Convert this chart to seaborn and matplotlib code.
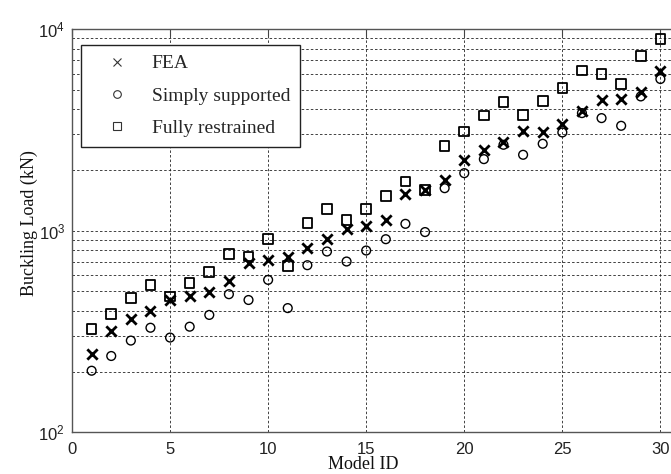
import math
import pandas as pd
import seaborn as sns
import matplotlib.pyplot as plt
from matplotlib.lines import Line2D
from matplotlib.ticker import MultipleLocator, LogLocator, FuncFormatter, NullFormatter

model_id = [1, 2, 3, 4, 5, 6, 7, 8, 9, 10,
            11, 12, 13, 14, 15, 16, 17, 18, 19, 20,
            21, 22, 23, 24, 25, 26, 27, 28, 29, 30]

fea = [245, 318, 364, 400, 453, 476, 499, 565, 690, 716,
       736, 819, 911, 1017, 1056, 1132, 1517, 1592, 1773, 2245,
       2518, 2737, 3104, 3069, 3388, 3900, 4425, 4510, 4868, 6210]

simply_supported = [202, 239, 285, 330, 295, 334, 382, 484, 453, 570,
                    413, 674, 788, 703, 797, 907, 1081, 984, 1624, 1928,
                    2263, 2666, 2378, 2697, 3069, 3828, 3615, 3311, 4630, 5649]

fully_restrained = [326, 385, 462, 538, 471, 549, 622, 767, 744, 907,
                    669, 1089, 1283, 1132, 1283, 1488, 1753, 1591, 2636, 3104,
                    3717, 4345, 3757, 4406, 5094, 6233, 5995, 5355, 7365, 8946]

series_names = ["FEA", "Simply supported", "Fully restrained"]

df = pd.DataFrame({
    "Model ID": model_id * 3,
    "Load": fea + simply_supported + fully_restrained,
    "Series": [n for n in series_names for _ in model_id],
})

sns.set_theme(style="white")
plt.rcParams["font.family"] = ["Liberation Serif", "DejaVu Serif"]
plt.rcParams["mathtext.fontset"] = "custom"
plt.rcParams["mathtext.rm"] = "Liberation Sans"
plt.rcParams["mathtext.it"] = "Liberation Sans"
plt.rcParams["mathtext.bf"] = "Liberation Sans"

fig = plt.figure(figsize=(6.71, 4.74), dpi=100)
ax = fig.add_axes([72 / 671, 41.7 / 474, 608 / 671, 403.3 / 474])

styles = {
    "FEA": dict(marker="x", s=55, linewidth=2.0, color="black"),
    "Simply supported": dict(marker="o", s=40, linewidth=1.0,
                             facecolor="none", edgecolor="black"),
    "Fully restrained": dict(marker="s", s=48, linewidth=1.3,
                             facecolor="none", edgecolor="black"),
}

for name in series_names:
    sns.scatterplot(
        data=df[df["Series"] == name],
        x="Model ID",
        y="Load",
        ax=ax,
        legend=False,
        zorder=3,
        **styles[name]
    )

ax.set_yscale("log")
ax.set_xlim(0, 31)
ax.set_ylim(100, 10000)

ax.xaxis.set_major_locator(MultipleLocator(5))
ax.yaxis.set_major_locator(LogLocator(base=10))
ax.yaxis.set_minor_locator(LogLocator(base=10, subs=range(2, 10)))
ax.yaxis.set_minor_formatter(NullFormatter())
ax.yaxis.set_major_formatter(FuncFormatter(lambda v, p: r"$\mathrm{10^{%d}}$" % round(math.log10(v))))
ax.xaxis.set_major_formatter(FuncFormatter(lambda v, p: "%d" % v))

grid_kw = dict(color="#222222", linestyle=(0, (3, 2.5)), linewidth=0.6)
ax.grid(True, which="major", axis="both", **grid_kw)
ax.grid(True, which="minor", axis="y", **grid_kw)
ax.set_axisbelow(True)

ax.tick_params(which="both", direction="in", top=True, right=True, color="#444444")
ax.tick_params(which="major", length=5, width=0.8)
ax.tick_params(which="minor", length=3, width=0.6)
ax.tick_params(axis="x", pad=7)
ax.tick_params(axis="y", pad=5)
ax.tick_params(labelsize=12, labelcolor="#222222", labelfontfamily="Liberation Sans")

for spine in ax.spines.values():
    spine.set_color("#555555")
    spine.set_linewidth(1.0)

ax.set_xlabel("Model ID", fontsize=13, color="#111111")
ax.set_ylabel("Buckling Load (kN)", fontsize=13, color="#111111")
ax.xaxis.set_label_coords(0.479, -0.058)
ax.yaxis.set_label_coords(-0.056, 0.519)

handles = [
    Line2D([], [], linestyle="none", marker="x", markersize=6,
           markeredgewidth=0.8, color="#333333"),
    Line2D([], [], linestyle="none", marker="o", markersize=5.5,
           markeredgewidth=0.8, markerfacecolor="none", markeredgecolor="#333333"),
    Line2D([], [], linestyle="none", marker="s", markersize=6,
           markeredgewidth=0.8, markerfacecolor="none", markeredgecolor="#333333"),
]
leg = ax.legend(
    handles, series_names,
    loc="upper left",
    bbox_to_anchor=(0.0143, 0.960),
    borderaxespad=0,
    fontsize=14,
    frameon=True,
    fancybox=False,
    framealpha=1,
    edgecolor="#222222",
    handlelength=2.7,
    handletextpad=0.46,
    labelspacing=0.75,
    borderpad=0.5,
)
leg.get_frame().set_linewidth(1.0)
leg.set_zorder(5)

fig.savefig("out.png", dpi=100)
